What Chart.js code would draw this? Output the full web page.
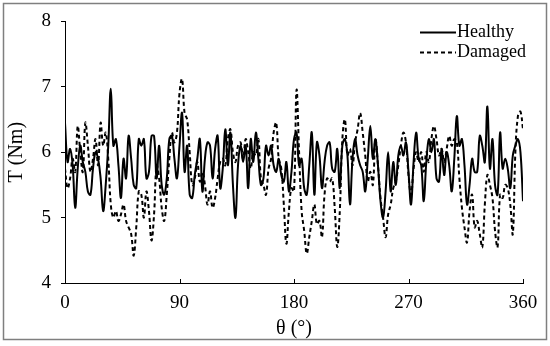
<!DOCTYPE html>
<html>
<head>
<meta charset="utf-8">
<title>T vs θ</title>
<script src="https://cdn.jsdelivr.net/npm/chart.js@4.4.1/dist/chart.umd.min.js"></script>
<style>
  body { margin: 0; background: #fff; }
  #wrap { position: relative; width: 550px; height: 346px; }
</style>
</head>
<body>
<div id="wrap"><canvas id="torqueChart"></canvas></div>
<script>
// Datos (cada 2°)
const angles = [
  0, 2, 4, 6, 8, 10, 12, 14, 16, 18,
  20, 22, 24, 26, 28, 30, 32, 34, 36, 38,
  40, 42, 44, 46, 48, 50, 52, 54, 56, 58,
  60, 62, 64, 66, 68, 70, 72, 74, 76, 78,
  80, 82, 84, 86, 88, 90, 92, 94, 96, 98,
  100, 102, 104, 106, 108, 110, 112, 114, 116, 118,
  120, 122, 124, 126, 128, 130, 132, 134, 136, 138,
  140, 142, 144, 146, 148, 150, 152, 154, 156, 158,
  160, 162, 164, 166, 168, 170, 172, 174, 176, 178,
  180, 182, 184, 186, 188, 190, 192, 194, 196, 198,
  200, 202, 204, 206, 208, 210, 212, 214, 216, 218,
  220, 222, 224, 226, 228, 230, 232, 234, 236, 238,
  240, 242, 244, 246, 248, 250, 252, 254, 256, 258,
  260, 262, 264, 266, 268, 270, 272, 274, 276, 278,
  280, 282, 284, 286, 288, 290, 292, 294, 296, 298,
  300, 302, 304, 306, 308, 310, 312, 314, 316, 318,
  320, 322, 324, 326, 328, 330, 332, 334, 336, 338,
  340, 342, 344, 346, 348, 350, 352, 354, 356, 358,
  360,
]

const healthy = [
  6.45, 5.85, 6.05, 5.8, 5.15, 5.75, 6.1, 5.85, 5.7, 5.4,
  5.35, 5.75, 6.0, 5.9, 5.6, 5.1, 5.5, 6.1, 6.97, 6.1,
  6.2, 5.8, 5.3, 5.9, 5.6, 6.25, 5.9, 5.5, 5.45, 6.2,
  6.1, 6.2, 5.6, 5.7, 6.25, 6.25, 5.6, 6.1, 5.5, 5.35,
  5.6, 6.2, 6.25, 5.9, 5.6, 6.1, 6.6, 5.7, 6.1, 5.35,
  5.3, 5.65, 5.9, 6.2, 5.4, 5.9, 6.15, 6.1, 5.6, 6.05,
  6.25, 5.45, 5.75, 6.35, 5.8, 6.3, 5.5, 5.0, 5.8, 6.1,
  5.85, 6.1, 5.45, 6.2, 5.85, 6.3, 5.9, 5.5, 5.6, 6.1,
  5.95, 6.1, 5.8, 5.7, 5.9, 5.65, 5.55, 5.85, 5.4, 5.7,
  6.2, 6.3, 5.8, 5.9, 5.45, 5.35, 5.8, 6.3, 5.35, 6.15,
  5.95, 5.45, 5.85, 6.1, 6.15, 5.75, 5.7, 6.05, 5.45, 6.1,
  6.2, 5.95, 5.2, 5.9, 6.2, 5.95, 5.8, 5.7, 5.4, 5.9,
  6.4, 5.9, 6.2, 5.8, 5.25, 5.0, 5.4, 6.0, 5.4, 5.85,
  5.5, 5.95, 6.1, 5.95, 6.15, 5.7, 5.2, 5.85, 6.3, 5.9,
  5.8, 5.25, 5.85, 6.2, 6.0, 6.2, 5.6, 5.55, 6.05, 5.65,
  6.0, 5.8, 5.4, 5.9, 6.55, 6.1, 6.2, 5.8, 5.2, 5.5,
  5.9, 5.7, 5.7, 6.25, 6.1, 5.85, 6.7, 5.75, 6.2, 5.5,
  5.35, 6.3, 5.75, 5.9, 5.75, 5.45, 5.95, 6.1, 6.2, 6.0,
  5.25,
]

const damaged = [
  5.75, 5.45, 5.6, 5.9, 5.7, 6.4, 6.0, 5.7, 6.45, 6.1,
  5.7, 5.9, 6.2, 5.8, 6.45, 6.1, 6.3, 5.9, 5.2, 5.0,
  5.1, 4.95, 5.05, 5.2, 4.95, 4.85, 4.75, 4.42, 4.85, 5.4,
  5.35, 5.0, 5.4, 5.1, 4.65, 5.05, 5.8, 5.6, 5.15, 4.95,
  5.35, 5.9, 6.3, 6.15, 6.3, 6.9, 7.12, 6.6, 6.5, 6.0,
  5.5, 5.6, 5.85, 5.55, 5.7, 5.5, 5.2, 5.4, 5.15, 5.3,
  5.6, 5.85, 5.9, 5.8, 6.2, 6.35, 6.0, 5.85, 6.1, 6.15,
  5.9, 6.2, 6.0, 5.75, 6.0, 5.95, 6.2, 5.6, 5.5, 5.35,
  5.75, 5.9, 6.3, 6.45, 5.9, 5.75, 5.2, 4.6, 5.1, 5.45,
  5.4, 6.95, 6.0, 5.1, 4.8, 4.45, 4.7, 4.95, 5.2, 4.9,
  4.95, 4.7, 5.35, 5.6, 5.55, 5.6, 5.15, 4.55, 5.1, 6.2,
  6.5, 5.95, 6.05, 5.8, 6.15, 6.35, 6.6, 6.3, 5.95, 5.55,
  5.7, 5.5, 6.2, 5.8, 5.3, 5.0, 4.7, 5.05, 5.2, 5.45,
  5.55, 5.8, 6.1, 6.3, 6.15, 5.65, 5.35, 5.75, 6.0, 5.85,
  6.0, 5.7, 6.0, 5.85, 6.2, 6.4, 6.2, 5.95, 6.05, 5.85,
  6.05, 6.25, 6.1, 6.2, 6.15, 5.6, 5.15, 4.85, 4.62, 5.1,
  5.35, 4.85, 4.95, 4.75, 4.55, 5.2, 5.65, 5.5, 5.3, 4.8,
  4.55, 5.35, 5.3, 5.5, 5.45, 5.2, 4.75, 6.0, 6.55, 6.62,
  6.35,
]

const xTicks = [0, 90, 180, 270, 360]
const yTicks = [4, 5, 6, 7, 8]

const serif = 'Liberation Serif'

// Marco gris alrededor de toda la figura
const framePlugin = {
  id: 'frame',
  beforeDraw(chart) {
    const { ctx } = chart
    ctx.save()
    ctx.strokeStyle = '#7f7f7f'
    ctx.lineWidth = 1.5
    ctx.strokeRect(3.5, 3.5, 543, 336)
    ctx.restore()
  },
}

// Marcas del eje x hacia dentro
const innerTicksPlugin = {
  id: 'innerTicks',
  afterDraw(chart) {
    const { ctx } = chart
    const scale = chart.scales.x
    ctx.save()
    ctx.strokeStyle = '#000'
    ctx.lineWidth = 1
    scale.ticks.forEach((tick) => {
      const px = Math.round(scale.getPixelForValue(tick.value)) + 0.5
      ctx.beginPath()
      ctx.moveTo(px, scale.top)
      ctx.lineTo(px, scale.top - 4)
      ctx.stroke()
    })
    ctx.restore()
  },
}

// Leyenda dentro del área del gráfico, arriba a la derecha
const legendPlugin = {
  id: 'insideLegend',
  afterDraw(chart) {
    const { ctx, chartArea } = chart
    const x0 = chartArea.right - 103
    ctx.save()
    ctx.font = '18px "' + serif + '"'
    ctx.textBaseline = 'middle'
    ctx.fillStyle = '#000'
    chart.data.datasets.forEach((ds, i) => {
      const y = chartArea.top + 11 + i * 20
      ctx.strokeStyle = ds.borderColor
      ctx.lineWidth = ds.borderWidth
      ctx.setLineDash(ds.borderDash || [])
      ctx.beginPath()
      ctx.moveTo(x0, y)
      ctx.lineTo(x0 + 36, y)
      ctx.stroke()
      ctx.setLineDash([])
      ctx.fillText(ds.label, x0 + 37, y)
    })
    ctx.restore()
  },
}

const canvas = document.getElementById('torqueChart')
const ctx = canvas.getContext('2d')

new Chart(ctx, {
  type: 'line',
  data: {
    datasets: [
      {
        label: 'Healthy',
        data: angles.map((a, i) => ({ x: a, y: healthy[i] })),
        borderColor: '#000',
        borderWidth: 2,
        pointRadius: 0,
        tension: 0.4,
        fill: false,
      },
      {
        label: 'Damaged',
        data: angles.map((a, i) => ({ x: a, y: damaged[i] })),
        borderColor: '#000',
        borderWidth: 2,
        borderDash: [4, 3],
        pointRadius: 0,
        tension: 0.4,
        fill: false,
      },
    ],
  },
  options: {
    responsive: true,
    maintainAspectRatio: false,
    animation: false,
    layout: {
      padding: { top: 16, right: 27, bottom: 0, left: 0 },
    },
    plugins: {
      legend: { display: false },
      tooltip: { enabled: false },
    },
    scales: {
      x: {
        type: 'linear',
        min: 0,
        max: 360,
        afterBuildTicks: (scale) => {
          scale.ticks = xTicks.map((v) => ({ value: v }))
        },
        afterFit: (scale) => {
          scale.height = 63
        },
        grid: { drawOnChartArea: false, drawTicks: false },
        border: { color: '#000', width: 1 },
        ticks: {
          color: '#000',
          padding: 9,
          maxRotation: 0,
          font: { family: serif, size: 19 },
        },
        title: {
          display: true,
          text: 'θ (°)',
          color: '#000',
          padding: { top: 0, bottom: 5 },
          font: { family: serif, size: 20 },
        },
      },
      y: {
        min: 4,
        max: 8,
        afterBuildTicks: (scale) => {
          scale.ticks = yTicks.map((v) => ({ value: v }))
        },
        afterFit: (scale) => {
          scale.width = 65
        },
        grid: { drawOnChartArea: false, drawTicks: true, tickLength: 4, color: '#000' },
        border: { color: '#000', width: 1 },
        ticks: {
          color: '#000',
          padding: 10,
          font: { family: serif, size: 19 },
        },
        title: {
          display: true,
          text: 'T (Nm)',
          color: '#000',
          padding: { top: 5, bottom: 0 },
          font: { family: serif, size: 20 },
        },
      },
    },
  },
  plugins: [framePlugin, innerTicksPlugin, legendPlugin],
})
</script>
</body>
</html>
